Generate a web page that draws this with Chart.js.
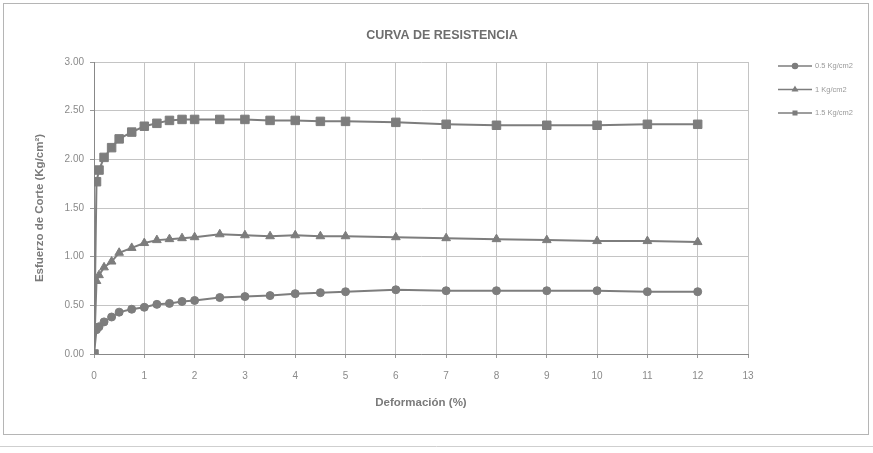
<!DOCTYPE html>
<html>
<head>
<meta charset="utf-8">
<script src="https://cdn.jsdelivr.net/npm/chart.js@4/dist/chart.umd.min.js"></script>
<style>
    html, body { margin: 0; padding: 0; background: #fff; }
    #wrap { width: 873px; height: 453px; }
</style>
</head>
<body>
<div id="wrap"><canvas id="curva" width="873" height="453"></canvas></div>
<script>
// Deformación (%) for every reading
const deformacion = [0, 0.05, 0.1, 0.2, 0.35, 0.5, 0.75, 1, 1.25, 1.5, 1.75, 2, 2.5, 3, 3.5, 4, 4.5, 5, 6, 7, 8, 9, 10, 11, 12];

// Esfuerzo de corte (Kg/cm2) for each normal load
const esfuerzo05 = [0, 0.25, 0.28, 0.33, 0.38, 0.43, 0.46, 0.48, 0.51, 0.52, 0.54, 0.55, 0.58, 0.59, 0.60, 0.62, 0.63, 0.64, 0.66, 0.65, 0.65, 0.65, 0.65, 0.64, 0.64];
const esfuerzo10 = [0, 0.75, 0.81, 0.89, 0.95, 1.04, 1.09, 1.14, 1.17, 1.18, 1.19, 1.20, 1.23, 1.22, 1.21, 1.22, 1.21, 1.21, 1.20, 1.19, 1.18, 1.17, 1.16, 1.16, 1.15];
const esfuerzo15 = [0, 1.77, 1.89, 2.02, 2.12, 2.21, 2.28, 2.34, 2.37, 2.40, 2.41, 2.41, 2.41, 2.41, 2.40, 2.40, 2.39, 2.39, 2.38, 2.36, 2.35, 2.35, 2.35, 2.36, 2.36];

const seriesLabels = ['0.5 Kg/cm2', '1 Kg/cm2', '1.5 Kg/cm2'];
const seriesMarkers = ['circle', 'triangle', 'rect'];
const markerSizes = [4, 5, 6];

const chartTitle = 'CURVA DE RESISTENCIA';

const FONT = '"Liberation Sans", Arial, sans-serif';
const GRAY = '#7d7d7d';

function toPoints(values) {
    return values.map((v, i) => ({ x: deformacion[i], y: v }));
}

const datasets = [esfuerzo05, esfuerzo10, esfuerzo15].map((vals, i) => ({
    label: seriesLabels[i],
    data: toPoints(vals),
    borderColor: GRAY,
    backgroundColor: GRAY,
    borderWidth: 2,
    pointStyle: seriesMarkers[i],
    pointRadius: markerSizes[i],
    pointBorderWidth: 1,
    tension: 0
}));

// frame around the chart + title (sits right of the plot centre in the original)
const framePlugin = {
    id: 'frame',
    beforeDraw(chart) {
        const ctx = chart.ctx;
        ctx.save();
        ctx.fillStyle = '#fff';
        ctx.fillRect(0, 0, chart.width, chart.height);
        ctx.strokeStyle = '#b5b5b5';
        ctx.lineWidth = 1;
        ctx.strokeRect(3.5, 3.5, chart.width - 8, 431);
        ctx.strokeStyle = '#cfcfcf';
        ctx.beginPath();
        ctx.moveTo(0, 446.5);
        ctx.lineTo(chart.width, 446.5);
        ctx.stroke();

        ctx.fillStyle = '#6e6e6e';
        ctx.font = 'bold 12.5px ' + FONT;
        ctx.textAlign = 'center';
        ctx.textBaseline = 'middle';
        ctx.fillText(chartTitle, 442, 36);
        ctx.restore();
    }
};

// small legend at the right side: line with marker, then label
const legendPlugin = {
    id: 'sideLegend',
    afterDraw(chart) {
        const ctx = chart.ctx;
        ctx.save();
        chart.data.datasets.forEach((ds, i) => {
            const y = 66 + i * 23.5;
            ctx.strokeStyle = ds.borderColor;
            ctx.lineWidth = 1.5;
            ctx.beginPath();
            ctx.moveTo(778, y);
            ctx.lineTo(812, y);
            ctx.stroke();
            Chart.helpers.drawPoint(ctx, {
                pointStyle: ds.pointStyle, radius: 2.5, rotation: 0, borderWidth: 1
            }, 795, y);
            ctx.fillStyle = ds.backgroundColor;
            ctx.fill();
            ctx.fillStyle = '#9a9a9a';
            ctx.font = '7.5px ' + FONT;
            ctx.textBaseline = 'middle';
            ctx.fillText(ds.label, 815, y);
        });
        ctx.restore();
    }
};

new Chart(document.getElementById('curva'), {
    type: 'line',
    data: { datasets: datasets },
    options: {
        responsive: false,
        animation: false,
        layout: { padding: { left: 12, right: 125, top: 62, bottom: 30 } },
        plugins: {
            legend: { display: false },
            tooltip: { enabled: false },
            title: { display: false }
        },
        scales: {
            x: {
                type: 'linear',
                min: 0,
                max: 13,
                ticks: { stepSize: 1, color: '#8a8a8a', font: { family: FONT, size: 10 }, padding: 12 },
                grid: { color: '#c4c4c4', tickLength: 4, tickColor: '#999' },
                border: { color: '#888', width: 1 },
                title: {
                    display: true,
                    text: 'Deformación (%)',
                    color: '#7a7a7a',
                    font: { family: FONT, size: 11.5, weight: 'bold' },
                    padding: { top: 0, bottom: 13 }
                },
                afterFit(scale) { scale.height = 69; }
            },
            y: {
                min: 0,
                max: 3,
                ticks: {
                    stepSize: 0.5,
                    color: '#8a8a8a',
                    font: { family: FONT, size: 10 },
                    padding: 6,
                    callback: v => v.toFixed(2)
                },
                grid: { color: '#c4c4c4', tickLength: 4, tickColor: '#999' },
                border: { color: '#888', width: 1 },
                title: {
                    display: true,
                    text: 'Esfuerzo de Corte (Kg/cm²)',
                    color: '#7a7a7a',
                    font: { family: FONT, size: 11.5, weight: 'bold' },
                    padding: { top: 21, bottom: 0 }
                },
                afterFit(scale) { scale.width = 82; }
            }
        }
    },
    plugins: [framePlugin, legendPlugin]
});
</script>
</body>
</html>
